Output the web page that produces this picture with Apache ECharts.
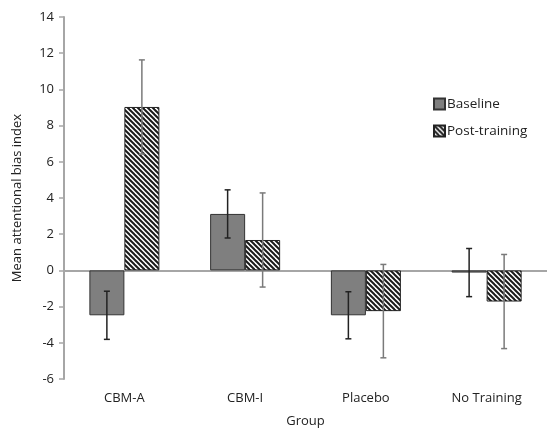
<!DOCTYPE html>
<html>
<head>
<meta charset="utf-8">
<script src="https://cdn.jsdelivr.net/npm/echarts@6/dist/echarts.min.js"></script>
<style>
  html, body { margin: 0; padding: 0; background: #fff; }
  #chart { width: 547px; height: 430px; }
</style>
</head>
<body>
<div id="chart"></div>
<script>
  var categories = ['CBM-A', 'CBM-I', 'Placebo', 'No Training'];
  var baseline = [-2.48, 3.12, -2.48, -0.12];
  var postTraining = [9.03, 1.68, -2.25, -1.72];
  var baselineErr = [1.33, 1.33, 1.3, 1.33];
  var postErr = [2.6, 2.6, 2.58, 2.6];
  var yTicks = [-6, -4, -2, 0, 2, 4, 6, 8, 10, 12, 14];

  // hatch pattern for post-training bars
  function makeHatch() {
    var s = 5;
    var c = document.createElement('canvas');
    c.width = s; c.height = s;
    var ctx = c.getContext('2d');
    ctx.fillStyle = '#fff';
    ctx.fillRect(0, 0, s, s);
    ctx.strokeStyle = '#1a1a1a';
    ctx.lineWidth = 2;
    for (var k = -s; k <= s; k += s) {
      ctx.beginPath();
      ctx.moveTo(k - 1, -1);
      ctx.lineTo(k + s + 1, s + 1);
      ctx.stroke();
    }
    return c;
  }
  var hatch = { image: makeHatch(), repeat: 'repeat' };

  function errData(vals, errs) {
    return vals.map(function (v, i) { return [i, v - errs[i], v + errs[i]]; });
  }

  function errRender(offset, color) {
    return function (params, api) {
      var lo = api.coord([api.value(0), api.value(1)]);
      var hi = api.coord([api.value(0), api.value(2)]);
      var x = lo[0] + offset;
      var w = 3;
      var st = { stroke: color, lineWidth: 1.5 };
      return {
        type: 'group',
        children: [
          { type: 'line', shape: { x1: x, y1: lo[1], x2: x, y2: hi[1] }, style: st },
          { type: 'line', shape: { x1: x - w, y1: lo[1], x2: x + w, y2: lo[1] }, style: st },
          { type: 'line', shape: { x1: x - w, y1: hi[1], x2: x + w, y2: hi[1] }, style: st }
        ]
      };
    };
  }

  var myChart = echarts.init(document.getElementById('chart'));
  var font = 'Open Sans';
  myChart.setOption({
    animation: false,
    textStyle: { fontFamily: font },
    grid: { left: 64, right: 0, top: 17, bottom: 51, containLabel: false, outerBoundsMode: 'none' },
    legend: {
      orient: 'vertical',
      left: 428,
      top: 92,
      icon: 'rect',
      itemWidth: 11,
      itemHeight: 11,
      itemGap: 13,
      textStyle: { fontFamily: font, fontSize: 13.5, color: '#222', padding: [0, 0, 0, -3] },
      data: ['Baseline', 'Post-training']
    },
    xAxis: {
      type: 'category',
      data: categories,
      name: 'Group',
      nameLocation: 'middle',
      nameGap: 36,
      nameTextStyle: { fontFamily: font, fontSize: 13, color: '#222' },
      axisLine: { show: false, onZero: false },
      axisTick: { show: false },
      axisLabel: { fontFamily: font, fontSize: 13, color: '#222', margin: 13 }
    },
    yAxis: {
      type: 'value',
      min: -6,
      max: 14,
      interval: 2,
      name: 'Mean attentional bias index',
      nameLocation: 'middle',
      nameGap: 40,
      nameTextStyle: { fontFamily: font, fontSize: 13, color: '#222' },
      axisLine: { show: true, lineStyle: { color: '#a6a6a6', width: 2 } },
      axisTick: { show: true, length: 5, lineStyle: { color: '#a6a6a6', width: 1.5 } },
      axisLabel: {
        fontFamily: font, fontSize: 13, color: '#222', margin: 10,
        formatter: function (v) { return yTicks.indexOf(v) >= 0 ? String(v) : ''; }
      },
      splitLine: { show: false }
    },
    series: [
      {
        name: 'Baseline',
        type: 'bar',
        data: baseline,
        barWidth: 35,
        barGap: '0%',
        itemStyle: { color: '#7f7f7f', borderColor: '#333', borderWidth: 1 },
        markLine: {
          silent: true,
          symbol: 'none',
          label: { show: false },
          lineStyle: { color: '#a6a6a6', width: 2, type: 'solid' },
          data: [{ yAxis: 0 }],
          z: 1
        }
      },
      {
        name: 'Post-training',
        type: 'bar',
        data: postTraining,
        barWidth: 35,
        itemStyle: { color: hatch, borderColor: '#222', borderWidth: 1 }
      },
      {
        type: 'custom',
        name: 'baselineErr',
        data: errData(baseline, baselineErr),
        renderItem: errRender(-17.5, '#222'),
        encode: { x: 0, y: [1, 2] },
        z: 5,
        silent: true
      },
      {
        type: 'custom',
        name: 'postErr',
        data: errData(postTraining, postErr),
        renderItem: errRender(17.5, '#7a7a7a'),
        encode: { x: 0, y: [1, 2] },
        z: 5,
        silent: true
      }
    ]
  });
</script>
</body>
</html>
